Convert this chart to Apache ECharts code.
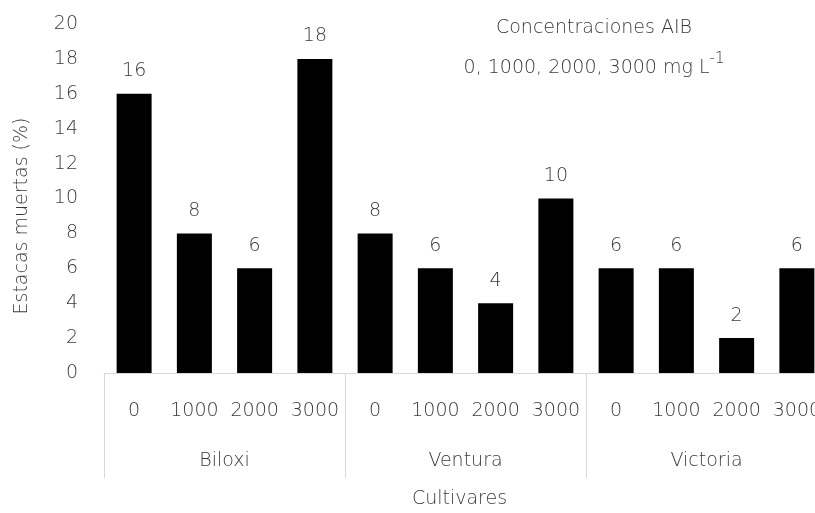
<!DOCTYPE html>
<html>
<head>
<meta charset="utf-8">
<script src="https://cdn.jsdelivr.net/npm/echarts@6/dist/echarts.min.js"></script>
<style>html,body{margin:0;padding:0;background:#fff}#c{width:815px;height:513px}</style>
</head>
<body>
<div id="c"></div>
<script>
var concentrations = ['0','1000','2000','3000','0','1000','2000','3000','0','1000','2000','3000'];
var cultivars = ['Biloxi','Ventura','Victoria'];
var deadCuttings = [16, 8, 6, 18, 8, 6, 4, 10, 6, 6, 2, 6];
var yTicks = {min: 0, max: 20, interval: 2};

var chart = echarts.init(document.getElementById('c'));
var txt = '#3a3a3a';
var ff = 'DejaVu Sans';
var fw = 300;
var fs = 19;
chart.setOption({
  animation: false,
  grid: {left: 104, top: 24, bottom: 140, width: 723, containLabel: false, outerBoundsMode: 'none'},
  xAxis: [{
    type: 'category',
    data: concentrations,
    position: 'bottom',
    offset: 0,
    axisLine: {show: true, lineStyle: {color: '#d9d9d9', width: 1}},
    axisTick: {show: false},
    axisLabel: {color: txt, fontFamily: ff, fontWeight: fw, fontSize: fs, margin: 29, interval: 0}
  }, {
    type: 'category',
    data: cultivars,
    position: 'bottom',
    offset: 0,
    axisLine: {show: false},
    axisTick: {show: true, length: 105, lineStyle: {color: '#d9d9d9', width: 1}},
    axisLabel: {color: txt, fontFamily: ff, fontWeight: fw, fontSize: fs, margin: 79},
    name: 'Cultivares',
    nameLocation: 'middle',
    nameGap: 117,
    nameTextStyle: {color: txt, fontFamily: ff, fontWeight: fw, fontSize: fs, padding: [0, 12, 0, 0]}
  }],
  yAxis: {
    type: 'value',
    min: yTicks.min, max: yTicks.max, interval: yTicks.interval,
    axisLine: {show: false},
    axisTick: {show: false},
    splitLine: {show: false},
    axisLabel: {color: txt, fontFamily: ff, fontWeight: fw, fontSize: fs, margin: 26}
  },
  series: [{
    type: 'bar',
    xAxisIndex: 0,
    data: deadCuttings,
    barWidth: 35,
    itemStyle: {color: '#000'},
    label: {show: true, position: 'top', distance: 13, color: txt, fontFamily: ff, fontWeight: fw, fontSize: fs}
  }],
  graphic: [{
    type: 'text',
    x: 22, y: 216, rotation: Math.PI / 2,
    style: {text: 'Estacas muertas (%)', fill: txt, fontFamily: ff, fontWeight: fw, fontSize: fs, align: 'center', verticalAlign: 'middle'}
  }, {
    type: 'text',
    x: 594, y: 28,
    style: {text: 'Concentraciones AIB', fill: txt, fontFamily: ff, fontWeight: fw, fontSize: fs, align: 'center', verticalAlign: 'middle'}
  }, {
    type: 'text',
    x: 594, y: 65,
    style: {
      text: '{m|0, 1000, 2000, 3000 mg L}{s|-1}',
      align: 'center', verticalAlign: 'middle',
      rich: {
        m: {fill: txt, fontFamily: ff, fontWeight: fw, fontSize: fs, lineHeight: 26, verticalAlign: 'bottom'},
        s: {fill: txt, fontFamily: ff, fontWeight: fw, fontSize: 15, lineHeight: 26, verticalAlign: 'top'}
      }
    }
  }]
});
</script>
</body>
</html>
